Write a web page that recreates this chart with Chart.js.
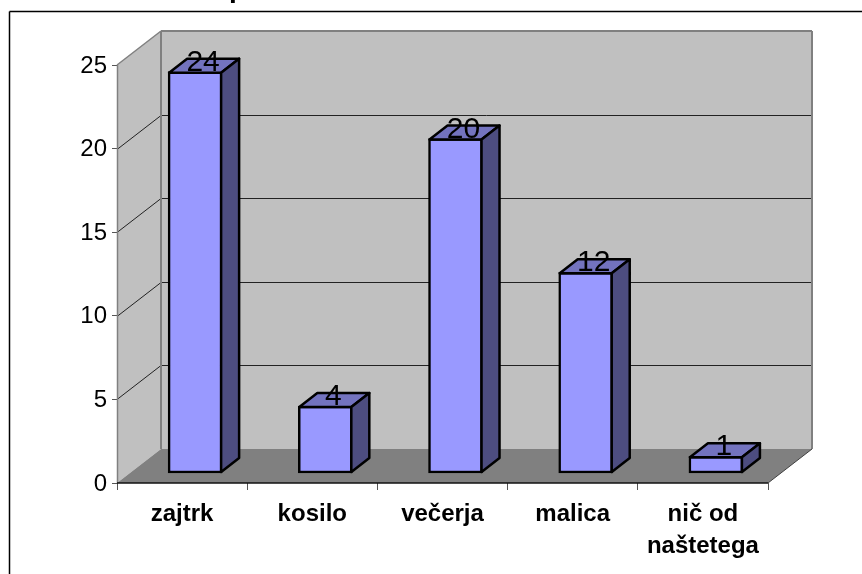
<!DOCTYPE html>
<html>
<head>
<meta charset="utf-8">
<title>Obroki</title>
<script src="https://cdn.jsdelivr.net/npm/chart.js@4/dist/chart.umd.min.js"></script>
<style>
  html, body { margin: 0; padding: 0; background: #fff; }
  #wrap { position: relative; width: 862px; height: 574px; overflow: hidden; }
</style>
</head>
<body>
<div id="wrap"><canvas id="mealChart" width="862" height="574"></canvas></div>
<script>
// data
const categories = ['zajtrk', 'kosilo', 'večerja', 'malica', ['nič od', 'naštetega']];
const counts = [24, 4, 20, 12, 1];
const yTicks = [0, 5, 10, 15, 20, 25];

// fake 3D look
const wallDepth = { x: 44, y: -34 };
const barDepth = { x: 18, y: -14 };
const barShift = 0.1;   // bars stand a bit behind the front axis (category units)
const barLift = 0.6;    // same thing upwards (value units)

function poly(c, pts, fill, stroke, lw) {
  c.beginPath();
  pts.forEach((p, i) => i ? c.lineTo(p[0], p[1]) : c.moveTo(p[0], p[1]));
  c.closePath();
  if (fill) { c.fillStyle = fill; c.fill(); }
  if (stroke) { c.strokeStyle = stroke; c.lineWidth = lw; c.stroke(); }
}

function line(c, x1, y1, x2, y2, color, lw) {
  c.beginPath();
  c.moveTo(x1, y1);
  c.lineTo(x2, y2);
  c.strokeStyle = color;
  c.lineWidth = lw;
  c.stroke();
}

// frame and walls behind the bars
const wallsPlugin = {
  id: 'walls',
  beforeDatasetsDraw(chart) {
    const c = chart.ctx;
    const a = chart.chartArea;
    const dx = wallDepth.x, dy = wallDepth.y;
    const y = chart.scales.y;
    c.save();
    poly(c, [[a.left, a.top], [a.left + dx, a.top + dy], [a.left + dx, a.bottom + dy], [a.left, a.bottom]], '#c0c0c0');
    poly(c, [[a.left + dx, a.top + dy], [a.right + dx, a.top + dy], [a.right + dx, a.bottom + dy], [a.left + dx, a.bottom + dy]], '#c0c0c0');
    poly(c, [[a.left, a.bottom], [a.left + dx, a.bottom + dy], [a.right + dx, a.bottom + dy], [a.right, a.bottom]], '#808080');

    yTicks.slice(1, -1).forEach(v => {
      const py = Math.round(y.getPixelForValue(v)) + 0.5;
      line(c, a.left, py, a.left + dx, py + dy, '#222', 1);
      line(c, a.left + dx, py + dy, a.right + dx, py + dy, '#222', 1);
    });

    // grey edges of the walls
    line(c, a.left, a.top, a.left + dx, a.top + dy, '#808080', 1.5);
    line(c, a.left + dx, a.top + dy, a.right + dx, a.top + dy, '#808080', 2);
    line(c, a.left + dx, a.top + dy, a.left + dx, a.bottom + dy, '#808080', 2);
    line(c, a.right + dx, a.top + dy, a.right + dx, a.bottom + dy, '#808080', 2);
    line(c, a.left + 0.5, a.top, a.left + 0.5, a.bottom, '#808080', 1.5);
    line(c, a.right, a.bottom, a.right + dx, a.bottom + dy, '#404040', 1);
    line(c, a.left, a.bottom, a.right, a.bottom, '#111', 1.5);
    c.restore();
  },
  afterDatasetsDraw(chart) {
    const c = chart.ctx;
    const meta = chart.getDatasetMeta(0);
    const dx = barDepth.x, dy = barDepth.y;
    c.save();
    c.lineJoin = 'round';
    meta.data.forEach(bar => {
      const half = bar.width / 2;
      const l = bar.x - half + 1, r = bar.x + half - 1, t = bar.y + 1, b = bar.base - 1;
      poly(c, [[l, t], [l + dx, t + dy], [r + dx, t + dy], [r, t]], '#7373bf', '#000', 2.5);
      poly(c, [[r, t], [r + dx, t + dy], [r + dx, b + dy], [r, b]], '#4d4d80', '#000', 2.5);
    });
    // value labels sit over the top face
    c.fillStyle = '#000';
    c.font = '30px "Liberation Sans"';
    c.textAlign = 'center';
    c.textBaseline = 'alphabetic';
    meta.data.forEach((bar, i) => {
      c.fillText(String(counts[i]), bar.x + 8, bar.y - 1);
    });
    c.restore();
  },
  afterDraw(chart) {
    const c = chart.ctx;
    c.save();
    line(c, 9.5, 11.5, 862, 11.5, '#000', 1.5);
    line(c, 9.5, 11.5, 9.5, 574, '#000', 1.5);
    // the title is cut off by the top edge, only this descender is left
    c.fillStyle = '#000';
    c.font = 'bold 28px "Liberation Sans"';
    c.textAlign = 'left';
    c.fillText('p', 229, -3);
    c.restore();
  }
};

const ctx = document.getElementById('mealChart').getContext('2d');
new Chart(ctx, {
  type: 'bar',
  plugins: [wallsPlugin],
  data: {
    labels: categories,
    datasets: [{
      data: counts.map((v, i) => ({ x: i, y: v })),
      xAxisID: 'xBar',
      yAxisID: 'yBar',
      backgroundColor: '#9999ff',
      borderColor: '#000',
      borderWidth: 2.5,
      borderSkipped: false,
      barThickness: 54
    }]
  },
  options: {
    responsive: false,
    animation: false,
    layout: { padding: { left: 0, top: 65, right: 94, bottom: 0 } },
    plugins: { legend: { display: false }, tooltip: { enabled: false } },
    scales: {
      x: {
        type: 'category',
        position: 'bottom',
        offset: true,
        afterFit: s => { s.height = 91; },
        border: { display: false },
        grid: { offset: true, drawOnChartArea: false, tickLength: 7, tickColor: '#555' },
        ticks: { color: '#000', font: { family: '"Liberation Sans"', size: 24, weight: 'bold', lineHeight: 1.33 }, maxRotation: 0, autoSkip: false, padding: 8 }
      },
      y: {
        type: 'linear',
        min: 0,
        max: 25,
        afterFit: s => { s.width = 117; },
        afterBuildTicks: s => { s.ticks = yTicks.map(value => ({ value })); },
        border: { display: false },
        grid: { drawOnChartArea: false, tickLength: 5, tickColor: '#555' },
        ticks: { color: '#000', font: { family: '"Liberation Sans"', size: 24 }, padding: 5, labelOffset: 1 }
      },
      xBar: { type: 'linear', display: false, offset: false, min: -0.5 - barShift, max: 4.5 - barShift },
      yBar: { type: 'linear', display: false, min: -barLift, max: 25 - barLift }
    }
  }
});
</script>
</body>
</html>
